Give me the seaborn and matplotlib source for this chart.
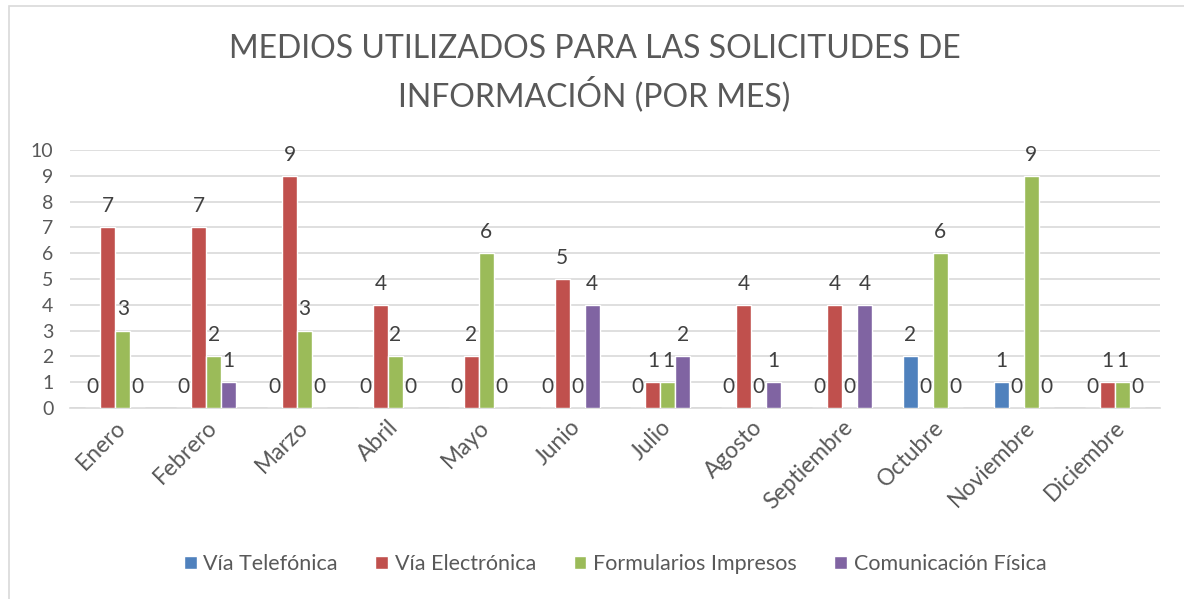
"""Medios utilizados para las solicitudes de información, por mes."""
import matplotlib.pyplot as plt
import pandas as pd
import seaborn as sns
from matplotlib.patches import Rectangle

meses = ["Enero", "Febrero", "Marzo", "Abril", "Mayo", "Junio", "Julio",
         "Agosto", "Septiembre", "Octubre", "Noviembre", "Diciembre"]
medios = ["Vía Telefónica", "Vía Electrónica", "Formularios Impresos", "Comunicación Física"]
via_telefonica = [0, 0, 0, 0, 0, 0, 0, 0, 0, 2, 1, 0]
via_electronica = [7, 7, 9, 4, 2, 5, 1, 4, 4, 0, 0, 1]
formularios_impresos = [3, 2, 3, 2, 6, 0, 1, 0, 0, 6, 9, 1]
comunicacion_fisica = [0, 1, 0, 0, 0, 4, 2, 1, 4, 0, 0, 0]
colores = ["#4F81BD", "#C0504D", "#9BBB59", "#8064A2"]

df = pd.DataFrame({
    "mes": meses * 4,
    "medio": [m for m in medios for _ in meses],
    "cantidad": via_telefonica + via_electronica + formularios_impresos + comunicacion_fisica,
})

sns.set_theme(style="white")
plt.rcParams["font.family"] = ["Lato", "DejaVu Sans"]
GRIS = "#595959"

fig = plt.figure(figsize=(11.84, 5.99), dpi=100)
ax = fig.add_axes([70 / 1184, 1 - 408 / 599, 1090 / 1184, 258 / 599])

sns.barplot(
    data=df, x="mes", y="cantidad", hue="medio", order=meses, hue_order=medios,
    palette=colores, width=0.66, saturation=1, ax=ax, zorder=3,
)

# etiquetas de datos, también para los ceros (como en Excel)
for cont in ax.containers:
    ax.bar_label(cont, fmt="%d", padding=8, fontsize=15, color="#404040")

ax.set_ylim(0, 10)
ax.set_yticks(range(0, 11))
ax.set_xlim(-0.5, len(meses) - 0.5)
ax.yaxis.grid(True, color="#D9D9D9", linewidth=1.2, zorder=0)
ax.set_axisbelow(True)
for s in ["top", "right", "left"]:
    ax.spines[s].set_visible(False)
ax.spines["bottom"].set_color("#D9D9D9")
ax.spines["bottom"].set_linewidth(1.2)
ax.tick_params(axis="both", length=0, labelcolor=GRIS)
ax.tick_params(axis="y", labelsize=14, pad=12)
ax.tick_params(axis="x", labelsize=16.5, pad=6)
plt.setp(ax.get_xticklabels(), rotation=45, ha="right", rotation_mode="anchor")
ax.set_xlabel("")
ax.set_ylabel("")

ax.legend(
    loc="center", bbox_to_anchor=(0.5, -0.605), ncol=4, frameon=False,
    fontsize=15.5, labelcolor=GRIS, handlelength=0.6, handleheight=0.6,
    handletextpad=0.3, columnspacing=1.75,
)

fig.text(0.502, 1 - 73 / 599, "MEDIOS UTILIZADOS PARA LAS SOLICITUDES DE\nINFORMACIÓN (POR MES)",
         ha="center", va="center", fontsize=23, color=GRIS, linespacing=1.4)

fig.patches.append(Rectangle((9 / 1184, -0.1), 1.2, 1 - 6 / 599 + 0.1, transform=fig.transFigure,
                             fill=False, edgecolor="#D9D9D9", linewidth=1.2))

fig.savefig("out.png", dpi=100)
